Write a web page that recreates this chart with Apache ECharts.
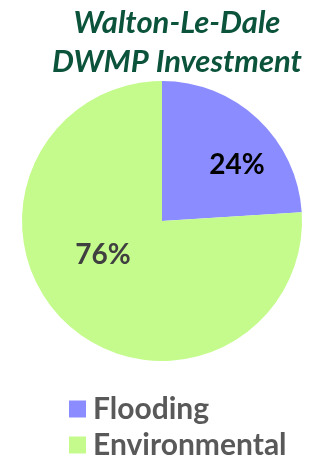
<!DOCTYPE html>
<html lang="en">
<head>
    <meta charset="UTF-8">
    <title>Walton-Le-Dale DWMP Investment</title>
    <style>
        html, body { margin: 0; padding: 0; background: #fff; }
        #main { width: 324px; height: 459px; }
    </style>
    <script src="https://cdn.jsdelivr.net/npm/echarts@6/dist/echarts.min.js"></script>
</head>
<body>
<div id="main"></div>
<script>
    // data
    const categories = ['Flooding', 'Environmental'];
    const values = [24, 76];
    const colors = ['#8a8cff', '#c4fb8c'];
    const labelColors = ['#000000', '#404040'];
    // nudge the % labels to where they sit in the original
    const labelOffsets = [[25, -3], [-9, -19]];
    const legendTops = [394, 430];

    const myChart = echarts.init(document.getElementById('main'));

    // one legend per row, stacked
    const legends = categories.map((name, i) => ({
        orient: 'vertical',
        left: 69,
        top: legendTops[i],
        padding: 0,
        itemWidth: 17,
        itemHeight: 17,
        icon: 'rect',
        selectedMode: false,
        data: [name],
        textStyle: {
            fontFamily: 'Lato',
            fontWeight: 'bold',
            fontSize: 30,
            color: '#595959',
            padding: [0, 0, 0, 2]
        }
    }));

    const option = {
        animation: false,
        title: {
            text: 'Walton-Le-Dale\nDWMP Investment',
            left: 177,
            top: 3,
            padding: 0,
            textAlign: 'center',
            textStyle: {
                fontFamily: 'Lato',
                fontStyle: 'italic',
                fontWeight: 'bold',
                fontSize: 31,
                lineHeight: 39,
                color: '#0b533a'
            }
        },
        legend: legends,
        series: [{
            type: 'pie',
            center: [162, 221],
            radius: 140,
            startAngle: 90,
            clockwise: true,
            silent: true,
            label: {
                position: 'inside',
                formatter: '{d}%',
                fontFamily: 'Lato',
                fontWeight: 'bold',
                fontSize: 28
            },
            labelLine: { show: false },
            data: categories.map((name, i) => ({
                name,
                value: values[i],
                itemStyle: { color: colors[i] },
                label: { color: labelColors[i], offset: labelOffsets[i] }
            }))
        }]
    };

    myChart.setOption(option);
</script>
</body>
</html>
